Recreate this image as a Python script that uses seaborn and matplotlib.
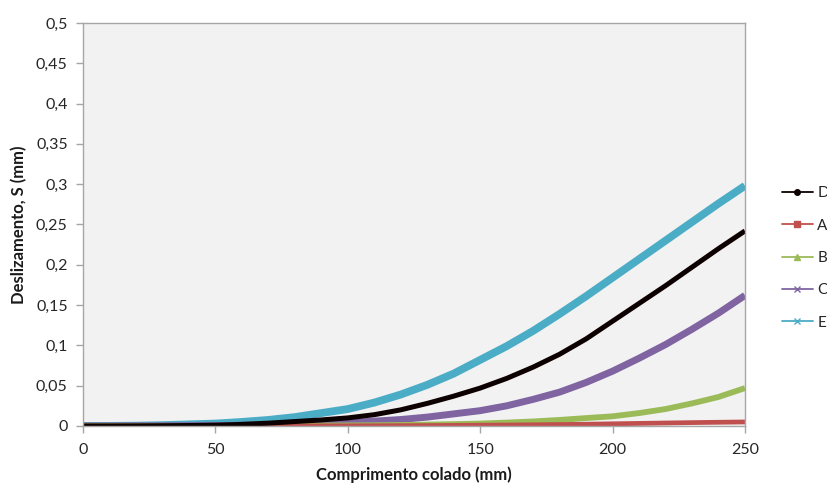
import matplotlib
matplotlib.use("Agg")
import matplotlib.pyplot as plt
from matplotlib.lines import Line2D
from matplotlib.ticker import FuncFormatter, MultipleLocator
import seaborn as sns
import pandas as pd

# comprimento colado (mm), leitura a cada 10 mm
x_mm = [0, 10, 20, 30, 40, 50, 60, 70, 80, 90, 100, 110, 120, 130, 140,
        150, 160, 170, 180, 190, 200, 210, 220, 230, 240, 250]

# deslizamento S (mm)
s_D = [0, 0, 0.0001, 0.0003, 0.0006, 0.001, 0.002, 0.0035, 0.0055, 0.0075,
       0.010, 0.014, 0.020, 0.028, 0.037, 0.047, 0.059, 0.073, 0.089, 0.108,
       0.130, 0.152, 0.174, 0.197, 0.220, 0.242]
s_A = [0, 0, 0, 0, 0, 0, 0, 0.0001, 0.0001, 0.0002, 0.0002, 0.0003, 0.0004,
       0.0005, 0.0007, 0.001, 0.0012, 0.0015, 0.0018, 0.0022, 0.0027, 0.0032,
       0.0037, 0.0042, 0.0046, 0.005]
s_B = [0, 0, 0, 0, 0.0001, 0.0001, 0.0002, 0.0003, 0.0004, 0.0005, 0.0007,
       0.0009, 0.0012, 0.0017, 0.0023, 0.003, 0.0042, 0.0056, 0.0075, 0.0098,
       0.012, 0.016, 0.021, 0.028, 0.036, 0.047]
s_C = [0, 0, 0.0001, 0.0002, 0.0003, 0.0005, 0.0008, 0.0012, 0.002, 0.003,
       0.004, 0.006, 0.008, 0.011, 0.015, 0.019, 0.025, 0.033, 0.042, 0.054,
       0.068, 0.084, 0.101, 0.120, 0.140, 0.162]
s_E = [0, 0.0001, 0.0004, 0.001, 0.002, 0.003, 0.005, 0.0075, 0.011, 0.016,
       0.021, 0.029, 0.039, 0.051, 0.065, 0.082, 0.099, 0.118, 0.139, 0.161,
       0.184, 0.207, 0.230, 0.253, 0.276, 0.298]

series_names = ["D", "A", "B", "C", "E"]
series_vals = [s_D, s_A, s_B, s_C, s_E]

colors = {"D": "#0d0000", "A": "#c0504d", "B": "#9bbb59",
          "C": "#8064a2", "E": "#4bacc6"}
markers = {"D": "o", "A": "s", "B": "^", "C": "x", "E": "x"}
widths = {"D": 3.6, "A": 3.4, "B": 4.2, "C": 5.0, "E": 5.6}

df = pd.concat([pd.DataFrame({"x": x_mm, "s": v, "serie": n})
                for n, v in zip(series_names, series_vals)])

sns.set_style("ticks")
plt.rcParams["font.family"] = ["Lato", "DejaVu Sans"]

fig = plt.figure(figsize=(8.28, 4.87), dpi=100)
ax = fig.add_axes([0.1002, 0.1253, 0.7995, 0.8275])
ax.set_facecolor("#f2f2f2")

# draw order so E is below D like in the original
for n in ["E", "C", "B", "A", "D"]:
    sns.lineplot(data=df[df["serie"] == n], x="x", y="s", color=colors[n],
                 linewidth=widths[n], ax=ax, legend=False,
                 solid_capstyle="butt", solid_joinstyle="round")

ax.set_xlim(0, 250)
ax.set_ylim(0, 0.5)
ax.xaxis.set_major_locator(MultipleLocator(50))
ax.yaxis.set_major_locator(MultipleLocator(0.05))
ax.yaxis.set_major_formatter(FuncFormatter(lambda v, p: f"{v:.2f}".rstrip("0").rstrip(".").replace(".", ",") if v != 0 else "0"))

for sp in ax.spines.values():
    sp.set_color("#a6a6a6")
    sp.set_linewidth(1.0)
ax.tick_params(axis="both", colors="#a6a6a6", labelcolor="#262626",
               labelsize=11.5, length=5, width=1, direction="out")
ax.tick_params(axis="x", pad=7)
ax.tick_params(axis="y", pad=6)

ax.set_xlabel("Comprimento colado (mm)", fontsize=12, fontweight="bold",
              color="#1a1a1a", labelpad=7)
ax.set_ylabel("Deslizamento, S (mm)", fontsize=12, fontweight="bold",
              color="#1a1a1a", labelpad=6)

handles = [Line2D([0], [0], color=colors[n], marker=markers[n], markersize=4,
                  linewidth=1.3) for n in series_names]
fig.legend(handles, series_names, loc="center left",
           bbox_to_anchor=(0.928, 0.47), frameon=False, fontsize=11,
           handlelength=2.0, handletextpad=0.3, labelspacing=1.2,
           borderpad=0.4)

fig.savefig("out.png", dpi=100, facecolor="white")
